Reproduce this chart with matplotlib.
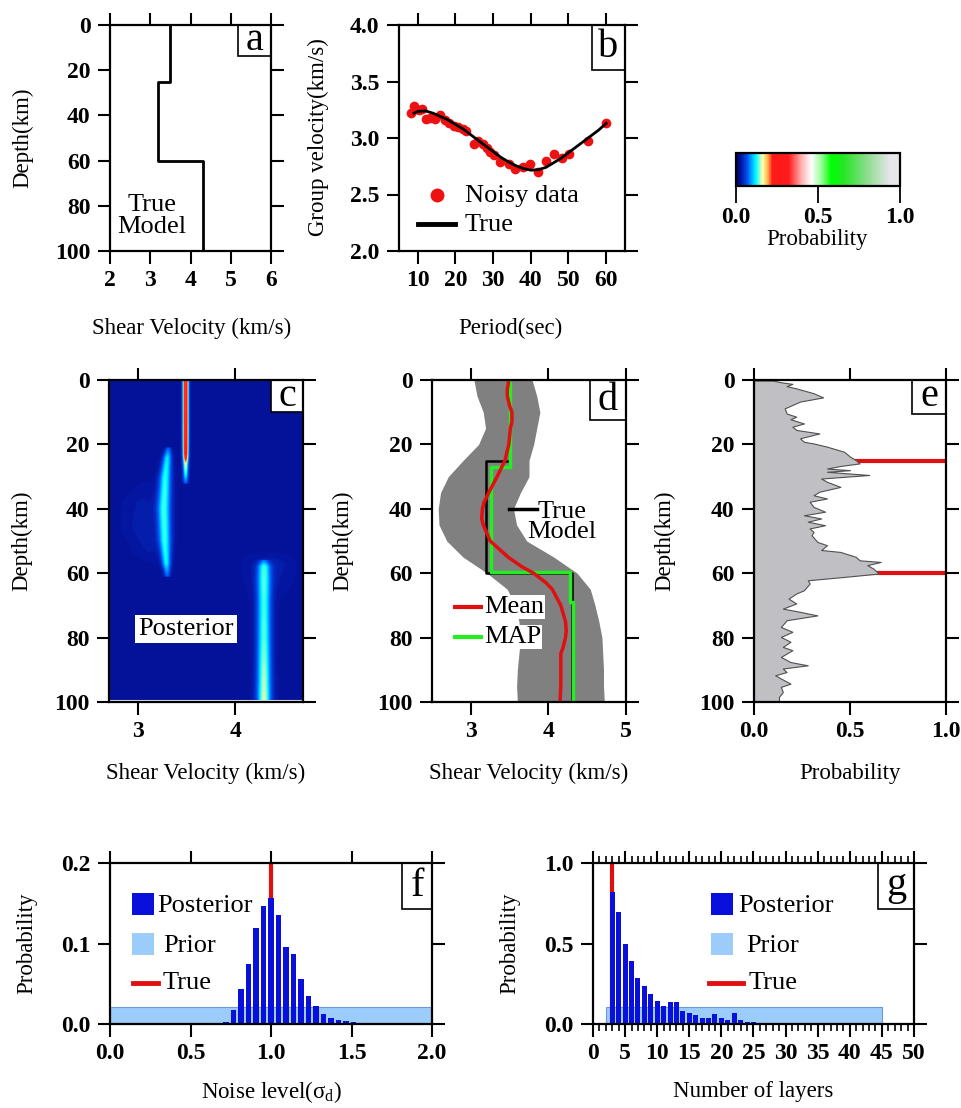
import numpy as np
import matplotlib
matplotlib.use('Agg')
import matplotlib.pyplot as plt
from matplotlib.colors import LinearSegmentedColormap
from matplotlib.patches import Rectangle
from matplotlib.ticker import MultipleLocator

plt.rcParams['font.family'] = ['Liberation Serif', 'DejaVu Serif']
plt.rcParams['mathtext.fontset'] = 'custom'
plt.rcParams['mathtext.rm'] = 'Liberation Serif'
plt.rcParams['mathtext.it'] = 'Liberation Serif:italic'

# ---------------- data ----------------
# (a) true model: layer tops (km) and shear velocity (km/s)
true_top = [0, 25, 60]
true_vs = [3.5, 3.2, 4.3]
max_depth = 100

# (b) dispersion data
period_obs = [8.2, 8.9, 10.4, 11.2, 12.1, 13.1, 14.5, 15.8, 17.1, 18.4, 19.5, 20.7,
              21.9, 22.9, 24.9, 26.1, 27.2, 28.3, 29.2, 30.1, 31.9, 34.1, 35.9,
              38.0, 39.9, 42.0, 44.1, 46.2, 48.2, 50.2, 55.3, 60.0]
vel_obs = [3.22, 3.28, 3.25, 3.26, 3.17, 3.18, 3.17, 3.20, 3.16, 3.13, 3.11, 3.10,
           3.08, 3.06, 2.95, 2.97, 2.95, 2.91, 2.88, 2.85, 2.79, 2.77, 2.73,
           2.74, 2.77, 2.70, 2.80, 2.86, 2.82, 2.86, 2.97, 3.13]
period_true = [9, 10, 12, 14, 16, 18, 20, 22, 24, 26, 28, 30, 32, 34, 36, 38, 40,
               42, 44, 46, 48, 50, 52, 54, 56, 58, 60]
vel_true = [3.22, 3.235, 3.24, 3.22, 3.19, 3.16, 3.12, 3.08, 3.03, 2.98, 2.93, 2.88,
            2.83, 2.79, 2.755, 2.73, 2.715, 2.72, 2.74, 2.78, 2.82, 2.87, 2.92,
            2.97, 3.02, 3.07, 3.13]

# colour scale (probability)
cmap_pos = [0.0, 0.03, 0.07, 0.12, 0.16, 0.19, 0.22, 0.32, 0.40, 0.46, 0.52, 0.58,
            0.66, 0.80, 0.94, 1.0]
cmap_col = [(0.0, 0.0, 0.45), (0.02, 0.08, 0.62), (0.0, 0.35, 1.0), (0.0, 1.0, 1.0),
            (1.0, 1.0, 0.7), (1.0, 0.75, 0.3), (1.0, 0.1, 0.1), (1.0, 0.1, 0.1),
            (1.0, 0.7, 0.7), (1.0, 1.0, 1.0), (0.6, 1.0, 0.6), (0.0, 1.0, 0.0),
            (0.15, 0.9, 0.15), (0.55, 0.86, 0.55), (0.9, 0.9, 0.92), (0.9, 0.9, 0.92)]

# (c) posterior density ridges: depth knots, centre velocity, peak prob, width
post_background = 0.03
ridge_depth = [[0, 10, 20, 23, 26, 29, 32],
               [21, 24, 30, 40, 50, 57, 61],
               [56, 58, 62, 70, 80, 90, 100],
               [30, 38, 46, 54, 58],
               [53, 57, 62, 66, 70]]
ridge_vs = [[3.49] * 7,
            [3.31, 3.30, 3.28, 3.265, 3.275, 3.29, 3.30],
            [4.30] * 7,
            [3.12, 3.05, 3.05, 3.12, 3.2],
            [4.35, 4.35, 4.35, 4.35, 4.35]]
ridge_peak = [[0.31, 0.31, 0.30, 0.27, 0.14, 0.10, 0.04],
              [0.04, 0.085, 0.098, 0.102, 0.10, 0.09, 0.04],
              [0.04, 0.095, 0.10, 0.102, 0.106, 0.118, 0.128],
              [0.0, 0.006, 0.008, 0.005, 0.0],
              [0.0, 0.01, 0.007, 0.003, 0.0]]
ridge_sig = [[0.018] * 7,
             [0.02, 0.03, 0.04, 0.046, 0.042, 0.03, 0.02],
             [0.035, 0.045, 0.048, 0.048, 0.048, 0.048, 0.048],
             [0.1, 0.12, 0.12, 0.1, 0.08],
             [0.14, 0.14, 0.14, 0.14, 0.14]]

# (d) credible interval, mean, MAP
band_depth = [0, 5, 10, 15, 20, 25, 30, 35, 40, 45, 50, 55, 60, 65, 70, 75, 80, 85, 90, 95, 100]
band_left = [3.04, 3.08, 3.16, 3.19, 3.10, 2.90, 2.71, 2.61, 2.58, 2.59, 2.69, 2.90,
             3.21, 3.47, 3.57, 3.62, 3.64, 3.62, 3.60, 3.59, 3.60]
band_right = [3.79, 3.85, 3.89, 3.85, 3.81, 3.75, 3.75, 3.64, 3.55, 3.59, 3.72, 4.07,
              4.37, 4.54, 4.60, 4.65, 4.69, 4.70, 4.71, 4.71, 4.72]
mean_depth = [0, 3, 5, 8, 10, 13, 15, 20, 25, 30, 35, 38, 40, 43, 45, 50, 55, 58, 60,
              63, 65, 70, 75, 78, 80, 83, 85, 90, 95, 100]
mean_vs = [3.49, 3.47, 3.47, 3.50, 3.53, 3.53, 3.51, 3.49, 3.44, 3.34, 3.23, 3.17,
           3.15, 3.14, 3.16, 3.25, 3.48, 3.66, 3.81, 3.97, 4.05, 4.16, 4.22, 4.23,
           4.22, 4.19, 4.16, 4.16, 4.16, 4.15]
map_top = [0, 27, 59.5, 69]
map_vs = [3.5, 3.255, 4.275, 4.315]

# (e) interface probability vs depth
iface_depth = [0.2, 0.8, 1.2, 1.9, 2.6, 4.1, 5.4, 6.7, 8.8, 10.4, 11.4, 12.2, 13.5,
               14.5, 15.5, 16.6, 18.1, 19.2, 19.7, 20.7, 22.3, 23.8, 24.9, 25.9,
               26.7, 27.5, 28.0, 28.5, 29.5, 30.6, 31.6, 33.2, 34.7, 35.8, 36.8,
               37.8, 39.4, 40.9, 42.0, 43.0, 44.0, 45.1, 46.1, 47.2, 48.2, 50.3,
               51.3, 52.8, 53.4, 54.9, 56.0, 56.5, 57.5, 58.5, 60.1, 61.1, 62.2,
               63.2, 65.3, 66.3, 67.9, 69.4, 71.0, 72.0, 73.1, 74.6, 76.7, 78.2,
               79.8, 81.3, 82.9, 83.9, 86.0, 87.6, 88.6, 89.6, 90.7, 91.7, 92.7,
               94.3, 95.3, 96.9, 98.4, 100.0]
iface_prob = [0.10, 0.15, 0.20, 0.17, 0.22, 0.31, 0.36, 0.24, 0.16, 0.17, 0.22, 0.19,
              0.26, 0.20, 0.22, 0.34, 0.24, 0.26, 0.31, 0.38, 0.47, 0.50, 0.53, 0.55,
              0.45, 0.38, 0.50, 0.38, 0.60, 0.35, 0.38, 0.45, 0.34, 0.31, 0.38,
              0.29, 0.31, 0.37, 0.26, 0.35, 0.28, 0.37, 0.29, 0.31, 0.30, 0.33,
              0.38, 0.35, 0.45, 0.53, 0.55, 0.66, 0.59, 0.62, 0.65, 0.48, 0.28,
              0.29, 0.26, 0.22, 0.18, 0.22, 0.15, 0.24, 0.33, 0.17, 0.14, 0.20,
              0.14, 0.19, 0.15, 0.20, 0.14, 0.19, 0.28, 0.15, 0.17, 0.11, 0.14,
              0.19, 0.14, 0.15, 0.13, 0.13]
true_iface = [25, 60]

# (f) noise level histogram
noise_centers = [0.721, 0.767, 0.814, 0.860, 0.907, 0.953, 1.0, 1.047, 1.093, 1.140,
                 1.186, 1.233, 1.279, 1.326, 1.372, 1.419, 1.465, 1.512, 1.558]
noise_post = [0.003, 0.017, 0.043, 0.074, 0.119, 0.147, 0.156, 0.135, 0.096, 0.087,
              0.056, 0.035, 0.022, 0.013, 0.0075, 0.005, 0.004, 0.0025, 0.0015]
noise_prior_range = [0.0, 2.0]
noise_prior_p = 0.021
noise_true = 1.0

# (g) number of layers histogram
nlay = list(range(3, 27))
nlay_post = [0.82, 0.695, 0.497, 0.389, 0.286, 0.234, 0.184, 0.145, 0.114, 0.137,
             0.137, 0.083, 0.066, 0.054, 0.039, 0.035, 0.062, 0.04, 0.025, 0.07,
             0.022, 0.015, 0.01, 0.005]
nlay_prior_range = [2.0, 45.0]
nlay_prior_p = 0.103
nlay_true = 3

# ---------------- figure ----------------
W, H, DPI = 962, 1108, 100
fig = plt.figure(figsize=(W / DPI, H / DPI), dpi=DPI)

FS_TICK = 17
FS_LAB = 16.5
FS_ANN = 19
FS_LET = 29


def rect(r):
    x0, y0, x1, y1 = r
    return [x0 / W, 1 - y1 / H, (x1 - x0) / W, (y1 - y0) / H]


def ftext(x, y, s, **kw):
    fig.text(x / W, 1 - y / H, s, **kw)


def apx(r, x, y):
    x0, y0, x1, y1 = r
    return ((x - x0) / (x1 - x0), (y1 - y) / (y1 - y0))


def style(ax, xt, xl, yt, yl):
    ax.set_xticks(xt)
    ax.set_xticklabels(xl)
    ax.set_yticks(yt)
    ax.set_yticklabels(yl)
    ax.tick_params(which='major', direction='out', length=9, width=1.5,
                   top=True, right=True, labelsize=FS_TICK, pad=5)
    for lab in ax.get_xticklabels() + ax.get_yticklabels():
        lab.set_fontweight('bold')
    for sp in ax.spines.values():
        sp.set_linewidth(1.6)
        sp.set_zorder(20)


def letter(ax, r, s, w, h):
    x0, y0, x1, y1 = r
    fx0, fy0 = apx(r, x1 - w, y0 + h)
    fw, fh = w / (x1 - x0), h / (y1 - y0)
    ax.add_patch(Rectangle((fx0, fy0), fw, fh, transform=ax.transAxes, facecolor='white',
                           edgecolor='black', lw=1.2, zorder=15, clip_on=False))
    ax.text(fx0 + fw / 2, fy0 + fh / 2, s, transform=ax.transAxes, ha='center',
            va='center', fontsize=FS_LET, zorder=16)


def profile(tops, vs, bottom):
    d, v = [], []
    for i, (t, val) in enumerate(zip(tops, vs)):
        b = tops[i + 1] if i + 1 < len(tops) else bottom
        d += [t, b]
        v += [val, val]
    return v, d


cmap = LinearSegmentedColormap.from_list('prob', list(zip(cmap_pos, cmap_col)))

depth_ticks = [0, 20, 40, 60, 80, 100]
depth_lab = [str(t) for t in depth_ticks]

# ---- (a)
ra = (110, 25, 271, 251)
ax = fig.add_axes(rect(ra))
v, d = profile(true_top, true_vs, max_depth)
ax.plot(v, d, color='black', lw=2)
ax.set_xlim(2, 6)
ax.set_ylim(100, 0)
style(ax, [2, 3, 4, 5, 6], ['2', '3', '4', '5', '6'], depth_ticks, depth_lab)
ax.text(3.04, 84.5, 'True\nModel', ha='center', va='center', fontsize=FS_ANN, linespacing=1.0)
letter(ax, ra, 'a', 33, 31)
ftext(23, 138, 'Depth(km)', rotation=90, ha='center', va='center', fontsize=FS_LAB)
ftext(192, 328, 'Shear Velocity (km/s)', ha='center', va='center', fontsize=FS_LAB)

# ---- (b)
rb = (399, 25, 625, 251)
ax = fig.add_axes(rect(rb))
ax.plot(period_true, vel_true, color='black', lw=2, zorder=3)
ax.plot(period_obs, vel_obs, 'o', color='#ee1111', ms=7, mec='none', zorder=2)
ax.set_xlim(5, 65)
ax.set_ylim(2, 4)
style(ax, [10, 20, 30, 40, 50, 60], ['10', '20', '30', '40', '50', '60'],
      [2.0, 2.5, 3.0, 3.5, 4.0], ['2.0', '2.5', '3.0', '3.5', '4.0'])
p = apx(rb, 437, 195)
ax.plot([p[0]], [p[1]], 'o', color='#ee1111', ms=10, mec='none', transform=ax.transAxes)
p = apx(rb, 465, 196)
ax.text(p[0], p[1], 'Noisy data', transform=ax.transAxes, ha='left', va='center', fontsize=FS_ANN)
p1, p2 = apx(rb, 418, 224), apx(rb, 455, 224)
ax.plot([p1[0], p2[0]], [p1[1], p2[1]], color='black', lw=3.5, transform=ax.transAxes)
p = apx(rb, 465, 225)
ax.text(p[0], p[1], 'True', transform=ax.transAxes, ha='left', va='center', fontsize=FS_ANN)
letter(ax, rb, 'b', 33, 45)
ftext(318, 137, 'Group velocity(km/s)', rotation=90, ha='center', va='center', fontsize=FS_LAB)
ftext(510, 328, 'Period(sec)', ha='center', va='center', fontsize=FS_LAB)

# ---- colour bar
rcb = (736, 153, 900, 186)
cax = fig.add_axes(rect(rcb))
sm = plt.cm.ScalarMappable(cmap=cmap, norm=plt.Normalize(0, 1))
cb = fig.colorbar(sm, cax=cax, orientation='horizontal', ticks=[0, 0.5, 1.0])
cb.outline.set_linewidth(1.6)
cax.set_xticklabels(['0.0', '0.5', '1.0'])
cax.tick_params(direction='out', length=12, width=1.3, labelsize=FS_TICK, pad=3)
for lab in cax.get_xticklabels():
    lab.set_fontweight('bold')
ftext(817, 239, 'Probability', ha='center', va='center', fontsize=FS_LAB)

# ---- (c)
rc = (109, 380, 303, 702)
ax = fig.add_axes(rect(rc))
vs_grid = np.linspace(2.7, 4.7, 401)
dep_grid = np.linspace(0, 100, 401)
img = np.full((dep_grid.size, vs_grid.size), post_background)
for dk, ck, pk, sk in zip(ridge_depth, ridge_vs, ridge_peak, ridge_sig):
    inside = (dep_grid >= dk[0]) & (dep_grid <= dk[-1])
    c = np.interp(dep_grid, dk, ck)
    pkv = np.where(inside, np.interp(dep_grid, dk, pk), 0.0)
    s = np.interp(dep_grid, dk, sk)
    img += pkv[:, None] * np.exp(-0.5 * ((vs_grid[None, :] - c[:, None]) / s[:, None]) ** 2)
ax.imshow(img, extent=[2.7, 4.7, 100, 0], aspect='auto', cmap=cmap, vmin=0, vmax=1,
          interpolation='bilinear')
ax.axhline(99.6, color=cmap(1.0), lw=1.5)
ax.set_xlim(2.7, 4.7)
ax.set_ylim(100, 0)
style(ax, [3, 4], ['3', '4'], depth_ticks, depth_lab)
ax.text(3.49, 77.3, 'Posterior', ha='center', va='center', fontsize=FS_ANN,
        bbox=dict(boxstyle='square,pad=0.12', facecolor='white', edgecolor='none'))
letter(ax, rc, 'c', 32, 32)
ftext(22, 541, 'Depth(km)', rotation=90, ha='center', va='center', fontsize=FS_LAB)
ftext(206, 773, 'Shear Velocity (km/s)', ha='center', va='center', fontsize=FS_LAB)

# ---- (d)
rd = (432, 380, 626, 702)
ax = fig.add_axes(rect(rd))
ax.fill_betweenx(band_depth, band_left, band_right, color='#808080', lw=0, zorder=1)
v, d = profile(true_top, true_vs, max_depth)
ax.plot(v, d, color='black', lw=1.8, zorder=2)
v, d = profile(map_top, map_vs, max_depth)
ax.plot(v, d, color='#22ee22', lw=2.5, zorder=3)
ax.plot(mean_vs, mean_depth, color='#e01010', lw=2.5, zorder=4)
ax.set_xlim(2.5, 5)
ax.set_ylim(100, 0)
style(ax, [3, 4, 5], ['3', '4', '5'], depth_ticks, depth_lab)
p1, p2 = apx(rd, 509, 509), apx(rd, 537, 509)
ax.plot([p1[0], p2[0]], [p1[1], p2[1]], color='black', lw=2.5, transform=ax.transAxes, zorder=6)
p = apx(rd, 562, 522)
ax.text(p[0], p[1], 'True\nModel', transform=ax.transAxes, ha='center', va='center',
        fontsize=FS_ANN, linespacing=0.88, zorder=6)
for yy, col, lab in [(607, '#e01010', 'Mean'), (637, '#22ee22', 'MAP')]:
    p1, p2 = apx(rd, 455, yy), apx(rd, 482, yy)
    ax.plot([p1[0], p2[0]], [p1[1], p2[1]], color=col, lw=3, transform=ax.transAxes, zorder=6)
    p = apx(rd, 484, yy)
    ax.text(p[0], p[1], lab, transform=ax.transAxes, ha='left', va='center', fontsize=FS_ANN,
            zorder=6, bbox=dict(boxstyle='square,pad=0.05', facecolor='white', edgecolor='none'))
letter(ax, rd, 'd', 36, 40)
ftext(343, 541, 'Depth(km)', rotation=90, ha='center', va='center', fontsize=FS_LAB)
ftext(529, 773, 'Shear Velocity (km/s)', ha='center', va='center', fontsize=FS_LAB)

# ---- (e)
re_ = (754, 380, 946, 702)
ax = fig.add_axes(rect(re_))
for dd in true_iface:
    ax.plot([0, 1], [dd, dd], color='#e01010', lw=3, zorder=1)
ax.fill_betweenx(iface_depth, 0, iface_prob, facecolor='#c0c0c4', edgecolor='#505050',
                 lw=0.8, zorder=2)
ax.set_xlim(0, 1)
ax.set_ylim(100, 0)
style(ax, [0, 0.5, 1.0], ['0.0', '0.5', '1.0'], depth_ticks, depth_lab)
letter(ax, re_, 'e', 34, 34)
ftext(665, 541, 'Depth(km)', rotation=90, ha='center', va='center', fontsize=FS_LAB)
ftext(850, 773, 'Probability', ha='center', va='center', fontsize=FS_LAB)

post_col = '#0a10dc'
prior_col = '#9cccfa'
prior_edge = '#6a9ad8'

# ---- (f)
rf = (110, 863, 432, 1024)
ax = fig.add_axes(rect(rf))
ax.bar(noise_prior_range[0], noise_prior_p, width=noise_prior_range[1] - noise_prior_range[0],
       align='edge', color=prior_col, edgecolor=prior_edge, lw=0.8, zorder=1)
ax.plot([noise_true, noise_true], [0, 0.2], color='#e01010', lw=3, zorder=2)
ax.bar(noise_centers, noise_post, width=0.036, color=post_col, lw=0, zorder=3)
ax.set_xlim(0, 2)
ax.set_ylim(0, 0.2)
style(ax, [0, 0.5, 1.0, 1.5, 2.0], ['0.0', '0.5', '1.0', '1.5', '2.0'],
      [0, 0.1, 0.2], ['0.0', '0.1', '0.2'])
for (yy, col) in [(904, post_col), (944, prior_col)]:
    p = apx(rf, 132, yy + 11)
    ax.add_patch(Rectangle(p, 22 / 322, 22 / 161, transform=ax.transAxes, facecolor=col,
                           edgecolor='none', zorder=6))
p1, p2 = apx(rf, 133, 983), apx(rf, 158, 983)
ax.plot([p1[0], p2[0]], [p1[1], p2[1]], color='#e01010', lw=3.5, transform=ax.transAxes, zorder=6)
for yy, lab, xx in [(906, 'Posterior', 157), (946, 'Prior', 163), (983, 'True', 163)]:
    p = apx(rf, xx, yy)
    ax.text(p[0], p[1], lab, transform=ax.transAxes, ha='left', va='center', fontsize=FS_ANN, zorder=6)
letter(ax, rf, 'f', 30, 46)
ftext(27, 943, 'Probability', rotation=90, ha='center', va='center', fontsize=FS_LAB)
ftext(271, 1092, r'Noise level(σ$_\mathrm{d}$)', ha='center', va='center', fontsize=FS_LAB)

# ---- (g)
rg = (593, 863, 914, 1024)
ax = fig.add_axes(rect(rg))
ax.bar(nlay_prior_range[0], nlay_prior_p, width=nlay_prior_range[1] - nlay_prior_range[0],
       align='edge', color=prior_col, edgecolor=prior_edge, lw=0.8, zorder=1)
ax.plot([nlay_true, nlay_true], [0, 1], color='#e01010', lw=3, zorder=2)
ax.bar(nlay, nlay_post, width=0.78, color=post_col, lw=0, zorder=3)
ax.set_xlim(0, 50)
ax.set_ylim(0, 1)
style(ax, list(range(0, 51, 5)), [str(t) for t in range(0, 51, 5)],
      [0, 0.5, 1.0], ['0.0', '0.5', '1.0'])
ax.xaxis.set_minor_locator(MultipleLocator(1))
ax.tick_params(which='minor', direction='out', length=5, width=1.2, top=True)
for (yy, col) in [(904, post_col), (944, prior_col)]:
    p = apx(rg, 711, yy + 11)
    ax.add_patch(Rectangle(p, 22 / 321, 22 / 161, transform=ax.transAxes, facecolor=col,
                           edgecolor='none', zorder=6))
p1, p2 = apx(rg, 709, 983), apx(rg, 743, 983)
ax.plot([p1[0], p2[0]], [p1[1], p2[1]], color='#e01010', lw=3.5, transform=ax.transAxes, zorder=6)
for yy, lab, xx in [(906, 'Posterior', 738), (946, 'Prior', 746), (983, 'True', 749)]:
    p = apx(rg, xx, yy)
    ax.text(p[0], p[1], lab, transform=ax.transAxes, ha='left', va='center', fontsize=FS_ANN, zorder=6)
letter(ax, rg, 'g', 36, 46)
ftext(510, 943, 'Probability', rotation=90, ha='center', va='center', fontsize=FS_LAB)
ftext(753, 1092, 'Number of layers', ha='center', va='center', fontsize=FS_LAB)

fig.savefig('out.png', dpi=DPI)
